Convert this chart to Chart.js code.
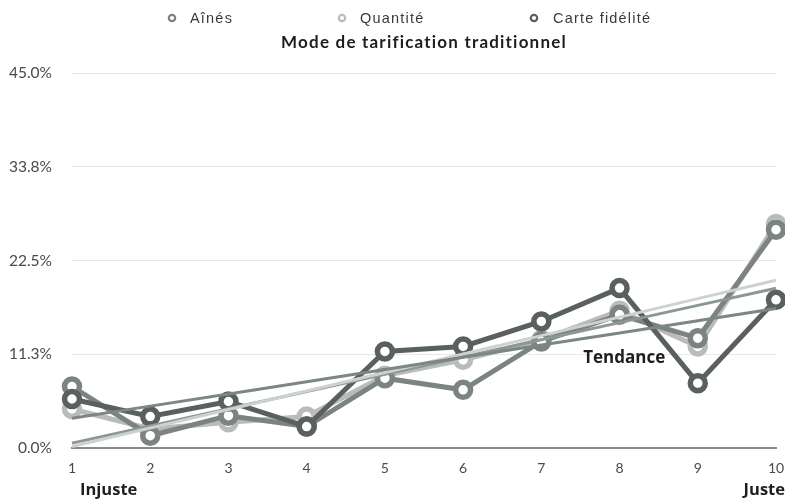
<!DOCTYPE html>
<html><head><meta charset="utf-8">
<script src="https://cdn.jsdelivr.net/npm/chart.js@4"></script>
<style>html,body{margin:0;padding:0;background:#fff}canvas{display:block}</style>
</head><body>
<canvas id="c" width="785" height="502"></canvas>
<script>
const categories = ['1','2','3','4','5','6','7','8','9','10'];
const ainesValues = [7.4, 1.5, 3.9, 2.6, 8.4, 7.0, 12.8, 16.0, 13.2, 26.2];
const quantiteValues = [4.7, 2.3, 3.1, 3.8, 8.7, 10.6, 13.0, 16.5, 12.2, 26.9];
const carteValues = [5.9, 3.8, 5.6, 2.6, 11.6, 12.2, 15.2, 19.2, 7.8, 17.8];
const seriesNames = ['Aînés', 'Quantité', 'Carte fidélité'];
const yTickLabels = ['0.0%', '11.3%', '22.5%', '33.8%', '45.0%'];
const yMin = 0, yMax = 45, yStep = 11.25;
const titleText = 'Mode de tarification traditionnel';
const trendLabel = 'Tendance';
const axisEndLabels = ['Injuste', 'Juste'];

const lineColors = ['#7b8480', '#b8bcba', '#5a605d'];
const trendColors = ['#8e9893', '#cdd2cf', '#7c8782'];

function linearTrend(vals) {
  const n = vals.length;
  let sx = 0, sy = 0, sxx = 0, sxy = 0;
  vals.forEach((v, i) => { sx += i; sy += v; sxx += i * i; sxy += i * v; });
  const b = (n * sxy - sx * sy) / (n * sxx - sx * sx);
  const a = (sy - b * sx) / n;
  return vals.map((_, i) => a + b * i);
}

const seriesValues = [ainesValues, quantiteValues, carteValues];
const drawOrder = [5, 6, 4];

const datasets = [];
seriesValues.forEach((vals, k) => {
  datasets.push({
    label: seriesNames[k], data: vals, order: drawOrder[k],
    borderColor: lineColors[k], borderWidth: 5,
    pointRadius: 7.5, pointBorderWidth: 5.5, pointBackgroundColor: '#ffffff',
    pointBorderColor: lineColors[k], tension: 0, fill: false
  });
});
seriesValues.forEach((vals, k) => {
  datasets.push({
    label: trendLabel + ' ' + seriesNames[k], data: linearTrend(vals), order: 3 - k,
    borderColor: trendColors[k], borderWidth: 3, pointRadius: 0, tension: 0, fill: false
  });
});

function setSpacing(ctx, v) { try { ctx.letterSpacing = v; } catch (e) {} }

const textPlugin = {
  id: 'texts',
  afterDraw(chart) {
    const ctx = chart.ctx;
    const xs = chart.scales.x, ys = chart.scales.y, ca = chart.chartArea;
    ctx.save();
    ctx.textBaseline = 'middle';
    // legend
    const markX = [172, 342, 534], textX = [190, 360, 553];
    ctx.font = '14.5px "Liberation Sans", Arial, sans-serif';
    setSpacing(ctx, '1.2px');
    ctx.textAlign = 'left';
    seriesNames.forEach((name, k) => {
      ctx.beginPath();
      ctx.arc(markX[k], 18, 3.2, 0, Math.PI * 2);
      ctx.fillStyle = '#ffffff';
      ctx.fill();
      ctx.lineWidth = 2.2;
      ctx.strokeStyle = lineColors[k];
      ctx.stroke();
      ctx.fillStyle = '#3a3a3a';
      ctx.fillText(name, textX[k], 18.5);
    });
    // title
    ctx.font = 'bold 17px Lato, sans-serif';
    setSpacing(ctx, '1.2px');
    ctx.fillStyle = '#1e1e1e';
    const tw = ctx.measureText(titleText).width;
    ctx.fillText(titleText, (ca.left + ca.right) / 2 - tw / 2, 43);
    setSpacing(ctx, '0px');
    // Tendance
    ctx.font = 'bold 17px "Open Sans", sans-serif';
    ctx.textAlign = 'center';
    ctx.fillText(trendLabel, xs.getPixelForValue(7.06), ys.getPixelForValue(10.8));
    // end labels
    ctx.font = 'bold 16.5px "Open Sans", sans-serif';
    ctx.textAlign = 'left';
    ctx.fillText(axisEndLabels[0], ca.left + 8, 490);
    ctx.textAlign = 'right';
    ctx.fillText(axisEndLabels[1], chart.width, 490);
    ctx.restore();
  }
};

new Chart(document.getElementById('c'), {
  type: 'line',
  data: { labels: categories, datasets },
  options: {
    responsive: false, animation: false, devicePixelRatio: 1,
    layout: { autoPadding: false, padding: { left: 0, right: 9, top: 73, bottom: 13 } },
    plugins: {
      legend: { display: false },
      tooltip: { enabled: false },
      title: { display: false }
    },
    scales: {
      x: {
        type: 'category', offset: false,
        afterFit(scale) { scale.paddingLeft = 0; scale.paddingRight = 0; },
        grid: { display: false, drawTicks: false },
        border: { display: true, color: '#8a8a8a', width: 2 },
        ticks: { color: '#4a4a4a', font: { family: 'Lato', size: 14 }, padding: 12, maxRotation: 0, autoSkip: false }
      },
      y: {
        min: yMin, max: yMax,
        afterFit(scale) { scale.width = 72; scale.paddingTop = 0; scale.paddingBottom = 0; },
        grid: { color: '#e8e8e8', lineWidth: 1, drawTicks: false },
        border: { display: false },
        ticks: {
          stepSize: yStep, padding: 20, color: '#4a4a4a',
          font: { family: 'Lato', size: 15.5 },
          callback: (v, i) => yTickLabels[i]
        }
      }
    }
  },
  plugins: [textPlugin]
});
</script>
</body></html>
